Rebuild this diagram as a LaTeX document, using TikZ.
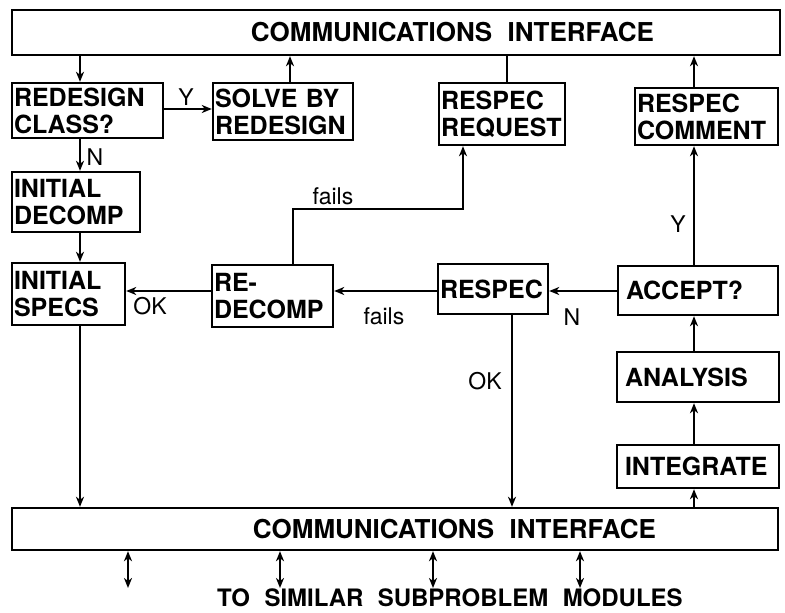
\documentclass[tikz,border=0pt]{standalone}
\usepackage{fontspec}
\setmainfont{TeX Gyre Heros}
\usetikzlibrary{arrows.meta}
\tikzset{
  box/.style={draw, line width=2.4pt, inner xsep=2pt, inner ysep=0pt, align=left,
    font=\bfseries\fontsize{25}{27}\selectfont},
  iface/.style={draw, line width=2.4pt, inner xsep=3pt, inner ysep=0pt, align=left,
    font=\bfseries\fontsize{26}{28}\selectfont},
  lbl/.style={inner sep=0pt, font=\fontsize{23}{25}\selectfont},
  conn/.style={line width=2.2pt},
  arr/.style={line width=2.2pt, -{Stealth[length=10pt,width=8pt,inset=3pt]}},
  dbl/.style={line width=2.2pt, {Stealth[length=10pt,width=8pt,inset=3pt]}-{Stealth[length=10pt,width=8pt,inset=3pt]}},
}
\begin{document}
\begin{tikzpicture}[x=1pt,y=-1pt]
\useasboundingbox (0,0) rectangle (785,613);

% boxes
\node[iface, minimum width=768pt, minimum height=45pt, text width=762pt] (top) at (396,32.5)
  {\hspace*{236pt}COMMUNICATIONS\hspace{0.6em}INTERFACE};
\node[box, minimum width=151pt, minimum height=55pt, text width=147pt] (redesign) at (87.5,110.5) {REDESIGN\\CLASS?};
\node[box, minimum width=140pt, minimum height=57pt, text width=136pt] (solve) at (283,111.5) {SOLVE BY\\REDESIGN};
\node[box, minimum width=126pt, minimum height=62pt, text width=122pt] (rreq) at (502,114) {RESPEC\\REQUEST};
\node[box, minimum width=143pt, minimum height=57pt, text width=139pt] (rcom) at (706.5,116.5) {RESPEC\\COMMENT};
\node[box, minimum width=128pt, minimum height=60pt, text width=124pt] (idecomp) at (76,202) {INITIAL\\DECOMP};
\node[box, minimum width=113pt, minimum height=62pt, text width=109pt] (ispecs) at (68.5,294) {INITIAL\\SPECS};
\node[box, minimum width=121pt, minimum height=62pt, text width=117pt] (redecomp) at (272.5,296) {RE-\\DECOMP};
\node[box, minimum width=110pt, minimum height=50pt, text width=106pt] (respec) at (493,289) {RESPEC};
\node[box, minimum width=160pt, minimum height=49pt, text width=156pt] (accept) at (698,290.5) {\hspace*{6pt}ACCEPT?};
\node[box, minimum width=162pt, minimum height=50pt, text width=158pt] (analysis) at (698,377) {\hspace*{6pt}ANALYSIS};
\node[box, minimum width=162pt, minimum height=43pt, text width=158pt] (integ) at (698,466.5) {\hspace*{6pt}INTEGRATE};
\node[iface, minimum width=766pt, minimum height=42pt, text width=760pt] (bot) at (395,529)
  {\hspace*{238pt}COMMUNICATIONS\hspace{0.6em}INTERFACE};

% helper coordinates
\coordinate (xA) at (80,0);
\coordinate (xB) at (290,0);
\coordinate (xC) at (507,0);
\coordinate (xD) at (694,0);
\coordinate (xE) at (512,0);
\coordinate (yY) at (0,109);
\coordinate (yR) at (0,291);
\coordinate (f1) at (293,209);
\coordinate (f2) at (463,209);
\coordinate (d1) at (128,588);
\coordinate (d2) at (280,588);
\coordinate (d3) at (433,588);
\coordinate (d4) at (580,588);

% connectors
\draw[arr] (top.south -| xA) -- (redesign.north -| xA);
\draw[arr] (redesign.south -| xA) -- (idecomp.north -| xA);
\draw[arr] (idecomp.south -| xA) -- (ispecs.north -| xA);
\draw[arr] (ispecs.south -| xA) -- (bot.north -| xA);
\draw[arr] (redesign.east |- yY) -- (solve.west |- yY);
\draw[arr] (solve.north -| xB) -- (top.south -| xB);
\draw[conn] (rreq.north -| xC) -- (top.south -| xC);
\draw[arr] (rcom.north -| xD) -- (top.south -| xD);
\draw[arr] (accept.north -| xD) -- (rcom.south -| xD);
\draw[arr] (analysis.north -| xD) -- (accept.south -| xD);
\draw[arr] (integ.north -| xD) -- (analysis.south -| xD);
\draw[arr] (bot.north -| xD) -- (integ.south -| xD);
\draw[arr] (accept.west |- yR) -- (respec.east |- yR);
\draw[arr] (respec.west |- yR) -- (redecomp.east |- yR);
\draw[arr] (redecomp.west |- yR) -- (ispecs.east |- yR);
\draw[arr] (respec.south -| xE) -- (bot.north -| xE);
\draw[arr] (redecomp.north -| f1) -- (f1) -- (f2) -- (rreq.south -| f2);
\draw[dbl] (bot.south -| d1) -- (d1);
\draw[dbl] (bot.south -| d2) -- (d2);
\draw[dbl] (bot.south -| d3) -- (d3);
\draw[dbl] (bot.south -| d4) -- (d4);

% labels
\node[lbl] (lY1) at (186,97) {Y};
\node[lbl] (lN1) at (95,157) {N};
\node[lbl] (lf1) at (333,196) {fails};
\node[lbl] (lok1) at (150,306) {OK};
\node[lbl] (lf2) at (384,316) {fails};
\node[lbl] (lN2) at (572,317) {N};
\node[lbl] (lY2) at (678,224) {Y};
\node[lbl] (lok2) at (485,381) {OK};
\node[inner sep=0pt, font=\bfseries\fontsize{24}{26}\selectfont] (bottxt) at (450,598)
  {TO\hspace{0.6em}SIMILAR\hspace{0.6em}SUBPROBLEM\hspace{0.6em}MODULES};
\end{tikzpicture}
\end{document}
